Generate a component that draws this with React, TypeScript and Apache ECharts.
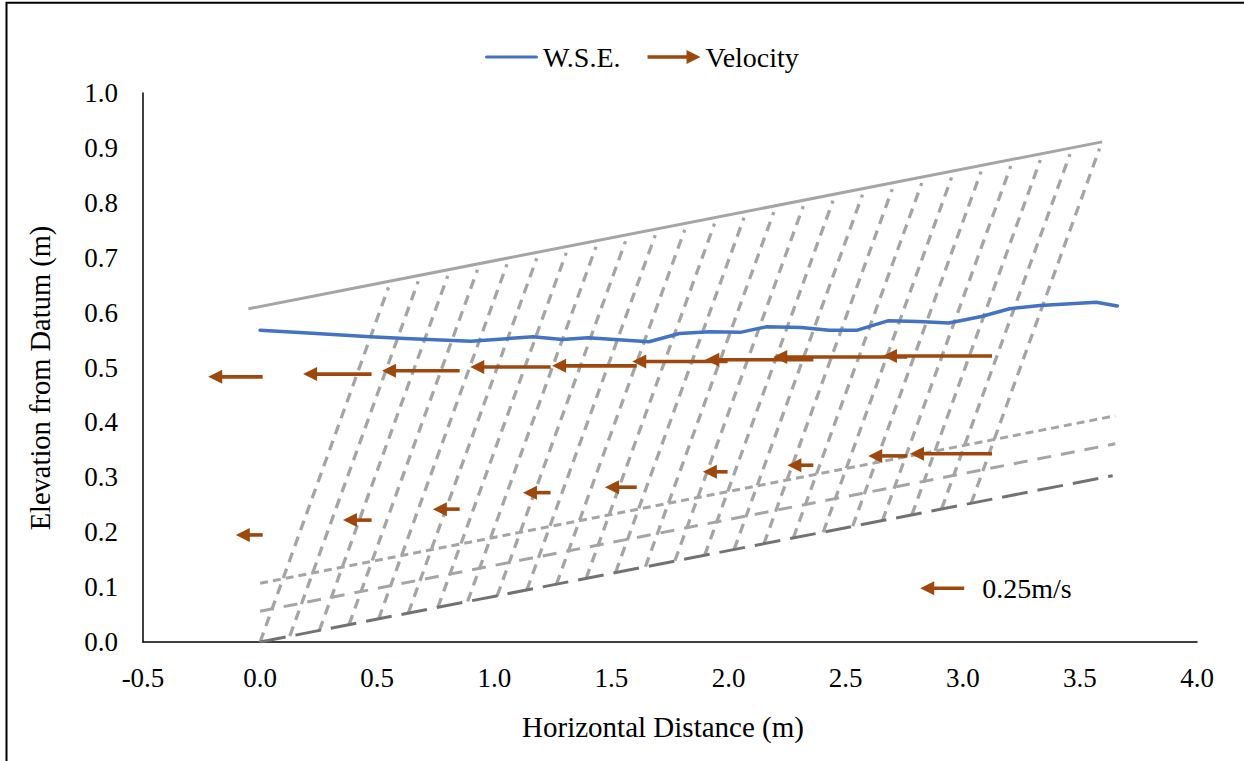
import React, { useEffect, useRef } from "react";
import * as echarts from "echarts";

const FONT = '"Liberation Serif", "Times New Roman", Times, serif';

// Axis ranges / ticks
const X_MIN = -0.5;
const X_MAX = 4.0;
const X_STEP = 0.5;
const Y_MIN = 0;
const Y_MAX = 1.0;
const Y_STEP = 0.1;

const X_TITLE = "Horizontal Distance (m)";
const Y_TITLE = "Elevation from Datum (m)";

// Water surface elevation
const wseX = [0, 0.24, 0.47, 0.62, 0.9, 1.165, 1.29, 1.4, 1.66, 1.79, 1.92, 2.05, 2.16, 2.31, 2.43, 2.55, 2.68, 2.81, 2.94, 3.08, 3.2, 3.33, 3.57, 3.66];
const wseY = [0.568, 0.562, 0.556, 0.553, 0.548, 0.556, 0.551, 0.554, 0.547, 0.562, 0.565, 0.564, 0.574, 0.573, 0.568, 0.568, 0.585, 0.584, 0.581, 0.593, 0.607, 0.613, 0.619, 0.612];

// Velocity stations (arrow tails) and velocities (m/s, negative direction)
const stationX = [0.011, 0.476, 0.852, 1.24, 1.608, 1.996, 2.362, 2.763, 3.125];
const upperY = [0.483, 0.488, 0.494, 0.501, 0.503, 0.511, 0.514, 0.519, 0.521];
const upperV = [0.31, 0.39, 0.442, 0.457, 0.482, 0.543, 0.615, 0.763, 0.621];
const lowerY = [0.195, 0.222, 0.242, 0.272, 0.282, 0.31, 0.322, 0.339, 0.343];
const lowerV = [0.153, 0.163, 0.153, 0.157, 0.181, 0.141, 0.148, 0.222, 0.467];
const ARROW_SCALE = 0.75; // metres of arrow per m/s

// Reference arrow
const refX = [3.006];
const refY = [0.098];
const refV = [0.25];
const refLabel = "0.25m/s";

// Flume geometry lines
const bedX = [0, 3.64];
const bedY = [0, 0.303];
const midX = [0, 3.651];
const midY = [0.056, 0.361];
const shortX = [0, 3.651];
const shortY = [0.107, 0.412];
const topX = [-0.05, 3.595];
const topY = [0.607, 0.911];

// Oblique hatch lines
const obliqueBaseX = [0, 0.127, 0.253, 0.38, 0.506, 0.633, 0.759, 0.886, 1.012, 1.139, 1.265, 1.392, 1.518, 1.645, 1.771, 1.898, 2.024, 2.151, 2.277, 2.404, 2.53, 2.657, 2.783, 2.91, 3.036];
const obliqueBaseY = [0, 0.011, 0.021, 0.032, 0.042, 0.053, 0.063, 0.074, 0.084, 0.095, 0.105, 0.116, 0.127, 0.137, 0.148, 0.158, 0.169, 0.179, 0.19, 0.2, 0.211, 0.221, 0.232, 0.243, 0.253];
const obliqueTopX = [0.548, 0.675, 0.801, 0.928, 1.054, 1.181, 1.307, 1.434, 1.56, 1.687, 1.813, 1.94, 2.066, 2.193, 2.319, 2.446, 2.572, 2.699, 2.825, 2.952, 3.078, 3.205, 3.331, 3.458, 3.584];
const obliqueTopY = [0.646, 0.657, 0.667, 0.678, 0.688, 0.699, 0.709, 0.72, 0.73, 0.741, 0.751, 0.762, 0.773, 0.783, 0.794, 0.804, 0.815, 0.825, 0.836, 0.846, 0.857, 0.867, 0.878, 0.889, 0.899];

const BLUE = "#4472C4";
const RUST = "#9E480E";
const GRAY = "#A5A5A5";
const DARK = "#767171";

function pairs(xs: number[], ys: number[]) {
  return xs.map((x, i) => [x, ys[i]]);
}

function arrowShape(api: any, color: string, extraText?: string) {
  const tx = api.value(0);
  const y = api.value(1);
  const v = api.value(2);
  const tail = api.coord([tx, y]);
  const tip = api.coord([tx - v * ARROW_SCALE, y]);
  const dx = tip[0] - tail[0];
  const dy = tip[1] - tail[1];
  const len = Math.hypot(dx, dy) || 1;
  const ux = dx / len;
  const uy = dy / len;
  const headLen = 14;
  const halfW = 7;
  const bx = tip[0] - ux * headLen;
  const by = tip[1] - uy * headLen;
  const children: any[] = [
    {
      type: "line",
      shape: { x1: tail[0], y1: tail[1], x2: bx + ux * 2, y2: by + uy * 2 },
      style: { stroke: color, lineWidth: 3.6, lineCap: "butt" },
    },
    {
      type: "polygon",
      shape: {
        points: [
          [tip[0], tip[1]],
          [bx - uy * halfW, by + ux * halfW],
          [bx + uy * halfW, by - ux * halfW],
        ],
      },
      style: { fill: color },
    },
  ];
  if (extraText) {
    children.push({
      type: "text",
      x: tail[0] + 18,
      y: tail[1],
      style: {
        text: extraText,
        fontSize: 28,
        fontFamily: FONT,
        fill: "#000",
        verticalAlign: "middle",
        align: "left",
      },
    });
  }
  return { type: "group", children };
}

function lineSeries(name: string, xs: number[], ys: number[], color: string, width: number, dash: any, z: number) {
  return {
    name,
    type: "line",
    data: pairs(xs, ys),
    symbol: "none",
    silent: true,
    z,
    lineStyle: { color, width, type: dash, cap: "butt" },
  };
}

export default function App() {
  const ref = useRef<HTMLDivElement>(null);
  useEffect(() => {
    document.body.style.margin = "0";
    document.body.style.overflow = "hidden";
    const chart = echarts.init(ref.current!, null, { renderer: "svg" });

    const velocityData = [
      ...stationX.map((x, i) => [x, upperY[i], upperV[i]]),
      ...stationX.map((x, i) => [x, lowerY[i], lowerV[i]]),
    ];
    const refData = refX.map((x, i) => [x, refY[i], refV[i]]);
    const obliqueData = obliqueBaseX.map((x, i) => [x, obliqueBaseY[i], obliqueTopX[i], obliqueTopY[i]]);

    const option: any = {
      animation: false,
      backgroundColor: "#fff",
      textStyle: { fontFamily: FONT },
      grid: { left: 143, top: 93, width: 1054, height: 549, containLabel: false },
      legend: {
        left: 485,
        top: 43,
        padding: 0,
        itemWidth: 53,
        itemHeight: 14,
        itemGap: 27,
        selectedMode: false,
        textStyle: { fontSize: 28, fontFamily: FONT, color: "#000" },
        data: [
          {
            name: "W.S.E.",
            icon: "path://M1.5,0L51.5,0A1.5,1.5,0,0,1,51.5,3.2L1.5,3.2A1.5,1.5,0,0,1,1.5,0Z",
            itemStyle: { color: BLUE, borderWidth: 0 },
          },
          {
            name: "Velocity",
            icon: "path://M0,5.2L40,5.2L40,8.8L0,8.8Z M39,0L53,7L39,14Z",
            itemStyle: { color: RUST, borderWidth: 0 },
          },
        ],
      },
      graphic: [
        {
          type: "rect",
          shape: { x: 6.5, y: 2.8, width: 1400, height: 900 },
          style: { fill: "none", stroke: "#000", lineWidth: 2 },
          silent: true,
        },
        {
          type: "text",
          x: 54.5,
          y: 378,
          rotation: Math.PI / 2,
          silent: true,
          style: {
            text: Y_TITLE,
            fontSize: 28.5,
            fontFamily: FONT,
            fill: "#000",
            align: "center",
            verticalAlign: "bottom",
          },
        },
      ],
      xAxis: {
        type: "value",
        min: X_MIN,
        max: X_MAX,
        interval: X_STEP,
        name: X_TITLE,
        nameLocation: "middle",
        nameGap: 70,
        nameTextStyle: { fontSize: 29, fontFamily: FONT, color: "#000", padding: [0, 14, 0, 0] },
        axisLine: { show: true, lineStyle: { color: "#000", width: 1.5 } },
        axisTick: { show: false },
        splitLine: { show: false },
        axisLabel: {
          fontSize: 27,
          fontFamily: FONT,
          color: "#000",
          margin: 22,
          formatter: (v: number) => v.toFixed(1),
        },
      },
      yAxis: {
        type: "value",
        min: Y_MIN,
        max: Y_MAX,
        interval: Y_STEP,
        axisLine: { show: true, onZero: false, lineStyle: { color: "#000", width: 1.5 } },
        axisTick: { show: false },
        splitLine: { show: false },
        axisLabel: {
          fontSize: 27,
          fontFamily: FONT,
          color: "#000",
          margin: 25,
          formatter: (v: number) => v.toFixed(1),
        },
      },
      series: [
        {
          name: "hatch",
          type: "custom",
          silent: true,
          z: 1,
          encode: { x: [0, 2], y: [1, 3] },
          data: obliqueData,
          renderItem: (params: any, api: any) => {
            const p0 = api.coord([api.value(0), api.value(1)]);
            const p1 = api.coord([api.value(2), api.value(3)]);
            return {
              type: "line",
              shape: { x1: p0[0], y1: p0[1], x2: p1[0], y2: p1[1] },
              style: { stroke: GRAY, lineWidth: 3.3, lineDash: [10, 7], lineCap: "butt" },
            };
          },
        },
        lineSeries("short", shortX, shortY, GRAY, 3, [8, 5], 2),
        lineSeries("mid", midX, midY, GRAY, 3, [14, 10], 2),
        lineSeries("bed", bedX, bedY, DARK, 3, [26, 10], 2),
        lineSeries("top", topX, topY, GRAY, 3, "solid", 2),
        {
          name: "W.S.E.",
          type: "line",
          data: pairs(wseX, wseY),
          symbol: "none",
          silent: true,
          z: 3,
          itemStyle: { color: BLUE },
          lineStyle: { color: BLUE, width: 3.5, cap: "round", join: "round" },
        },
        {
          name: "Velocity",
          type: "custom",
          silent: true,
          z: 4,
          itemStyle: { color: RUST },
          encode: { x: 0, y: 1 },
          data: velocityData,
          renderItem: (params: any, api: any) => arrowShape(api, RUST),
        },
        {
          name: "scale",
          type: "custom",
          silent: true,
          z: 4,
          itemStyle: { color: RUST },
          encode: { x: 0, y: 1 },
          data: refData,
          renderItem: (params: any, api: any) => arrowShape(api, RUST, refLabel),
        },
      ],
    };

    chart.setOption(option);
    return () => chart.dispose();
  }, []);
  return <div ref={ref} style={{ width: 1244, height: 761 }} />;
}
